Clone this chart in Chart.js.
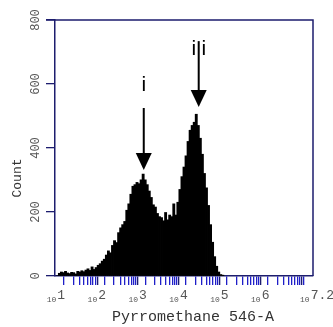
<!DOCTYPE html>
<html><head><meta charset="utf-8">
<script src="https://cdn.jsdelivr.net/npm/chart.js@4"></script>
<style>html,body{margin:0;padding:0;background:#fff}canvas{display:block}</style>
</head><body>
<canvas id="c" width="333" height="327"></canvas>
<script>
// log10 bin centres of the fluorescence channel (Pyrromethane 546-A)
const logBins = [1.00,1.05,1.10,1.15,1.20,1.25,1.30,1.35,1.40,1.45,1.50,1.55,1.60,1.65,1.70,1.75,1.80,1.85,1.90,1.95,
 2.00,2.05,2.10,2.15,2.20,2.25,2.30,2.35,2.40,2.45,2.50,2.55,2.60,2.65,2.70,2.75,2.80,2.85,2.90,2.95,
 3.00,3.05,3.10,3.15,3.20,3.25,3.30,3.35,3.40,3.45,3.50,3.55,3.60,3.65,3.70,3.75,3.80,3.85,3.90,3.95,
 4.00,4.05,4.10,4.15,4.20,4.25,4.30,4.35,4.40,4.45,4.50,4.55,4.60,4.65,4.70,4.75,4.80,4.85,4.90,4.95,5.00,5.05];
// event counts per bin
const counts = [0,8,12,10,14,9,7,11,10,6,14,12,16,13,18,22,17,28,20,26,
 33,38,46,52,65,78,72,95,110,104,135,150,160,170,205,225,255,280,285,292,
 288,300,318,300,285,265,245,222,215,195,185,182,172,198,175,190,185,225,190,230,
 270,310,340,375,420,455,470,480,505,470,430,380,320,275,220,160,105,60,30,12,4,1];
// y tick values
const yTicks = [0,200,400,600,800];
// x tick labels: exponent of 10
const xLabelExps = [1,2,3,4,5,6,7.2];
const xLabelTexts = ['1','2','3','4','5','6','7.2'];
// annotation arrows (x in log10 units, y in counts)
const arrowLabels = ['i','ii'];
const arrowX = [3.115, 4.46];
const arrowLabelY = [597, 709];
const arrowTopY = [525, 734];
const arrowTipY = [331, 528];

const NAVY = '#1d1d6e';
const BLUE = '#1f1fc8';
const GREY = '#555555';

const deco = {
  id: 'deco',
  afterDraw(chart) {
    const {ctx, chartArea: a, scales: {x, y}} = chart;
    ctx.save();
    // frame top & right
    ctx.strokeStyle = NAVY; ctx.lineWidth = 1.5;
    ctx.beginPath();
    ctx.moveTo(a.left - 9, a.top); ctx.lineTo(a.right, a.top); ctx.lineTo(a.right, a.bottom);
    ctx.stroke();
    // y tick labels (rotated)
    ctx.fillStyle = GREY;
    ctx.font = '12px "Liberation Mono"';
    ctx.textAlign = 'center'; ctx.textBaseline = 'middle';
    yTicks.forEach(v => {
      ctx.save();
      ctx.translate(36, y.getPixelForValue(v));
      ctx.rotate(-Math.PI / 2);
      ctx.fillText(String(v), 0, 0);
      ctx.restore();
    });
    // y title
    ctx.save();
    ctx.fillStyle = '#333';
    ctx.font = '13px "Liberation Mono"';
    ctx.translate(18, 178); ctx.rotate(-Math.PI / 2);
    ctx.fillText('Count', 0, 0);
    ctx.restore();
    // x tick labels
    xLabelExps.forEach((e, i) => {
      const px = x.getPixelForValue(e);
      ctx.fillStyle = GREY;
      ctx.textBaseline = 'alphabetic';
      ctx.font = '8px "Liberation Mono"';
      ctx.textAlign = 'right';
      ctx.fillText('10', px - 1, 302);
      ctx.font = '13px "Liberation Mono"';
      ctx.textAlign = 'left';
      ctx.fillText(xLabelTexts[i], px, 299);
    });
    // x title
    ctx.fillStyle = '#333';
    ctx.font = '15px "Liberation Mono"';
    ctx.textAlign = 'center'; ctx.textBaseline = 'middle';
    ctx.fillText('Pyrromethane 546-A', 193, 317);
    // arrows
    ctx.fillStyle = '#000'; ctx.strokeStyle = '#000';
    arrowLabels.forEach((lab, i) => {
      const px = x.getPixelForValue(arrowX[i]);
      const top = y.getPixelForValue(arrowTopY[i]);
      const tip = y.getPixelForValue(arrowTipY[i]);
      const ly = y.getPixelForValue(arrowLabelY[i]);
      ctx.lineWidth = 2;
      ctx.beginPath(); ctx.moveTo(px, top); ctx.lineTo(px, tip - 14); ctx.stroke();
      ctx.beginPath(); ctx.moveTo(px - 8, tip - 17); ctx.lineTo(px + 8, tip - 17); ctx.lineTo(px, tip); ctx.closePath(); ctx.fill();
      ctx.font = '21px "Liberation Sans"';
      ctx.textAlign = 'center'; ctx.textBaseline = 'middle';
      if (lab.length === 1) ctx.fillText(lab, px, ly);
      else { ctx.fillText('i', px - 5, ly); ctx.fillText('i', px + 5, ly); }
    });
    ctx.restore();
  }
};

new Chart(document.getElementById('c'), {
  type: 'bar',
  data: {
    datasets: [{
      data: logBins.map((v, i) => ({x: v, y: counts[i]})),
      backgroundColor: '#000', borderWidth: 0,
      barPercentage: 1, categoryPercentage: 1, inflateAmount: 0.5
    }]
  },
  options: {
    responsive: false, animation: false,
    layout: {padding: {left: 0, top: 20, right: 20, bottom: 0}},
    plugins: {legend: {display: false}, tooltip: {enabled: false}},
    scales: {
      x: {
        type: 'linear', min: 1, max: 7.2,
        afterBuildTicks(s) {
          const t = [];
          for (let d = 1; d <= 7; d++) for (let k = 1; k <= 9; k++) {
            const v = d + Math.log10(k);
            if (v <= 7.2) t.push({value: v});
          }
          s.ticks = t;
        },
        afterFit(s) { s.height = 51; },
        ticks: {display: false},
        grid: {drawOnChartArea: false, drawTicks: true, tickLength: 9,
          color: c => (c.tick && Math.abs(c.tick.value - Math.round(c.tick.value)) < 1e-6) ? NAVY : BLUE,
          lineWidth: 1.3},
        border: {display: true, color: NAVY, width: 1.5}
      },
      y: {
        min: 0, max: 800,
        ticks: {display: false, stepSize: 200},
        afterFit(s) { s.width = 55; },
        grid: {drawOnChartArea: false, drawTicks: true, tickLength: 9, color: NAVY, lineWidth: 1.3},
        border: {display: true, color: NAVY, width: 1.5}
      }
    }
  },
  plugins: [deco]
});
</script>
</body></html>
